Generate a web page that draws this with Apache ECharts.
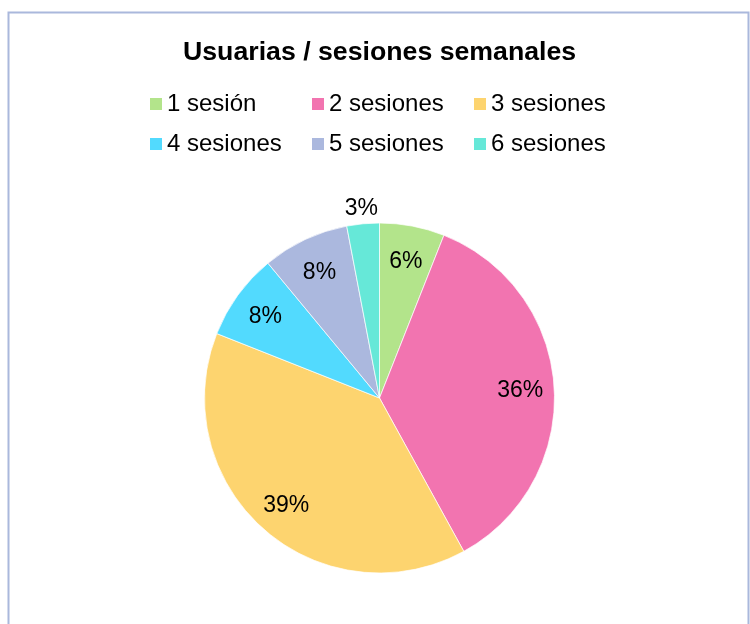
<!DOCTYPE html>
<html>
<head>
<meta charset="utf-8">
<script src="https://cdn.jsdelivr.net/npm/echarts@6/dist/echarts.min.js"></script>
<style>
  html, body { margin: 0; padding: 0; background: #fff; }
  #chart { width: 750px; height: 624px; }
</style>
</head>
<body>
<div id="chart"></div>
<script>
// datos
var categories = ['1 sesión', '2 sesiones', '3 sesiones', '4 sesiones', '5 sesiones', '6 sesiones'];
var percentages = [6, 36, 39, 8, 8, 3];
var colors = ['#b3e48b', '#f274b0', '#fdd46f', '#52dafe', '#abb8de', '#66e8d8'];

var font = "'Liberation Sans', Arial, sans-serif";

(function () {
	var myChart = echarts.init(document.getElementById('chart'));

	function pieData(showFn) {
		return categories.map(function (name, i) {
			return {
				name: name,
				value: percentages[i],
				label: { show: showFn(percentages[i]) }
			};
		});
	}

	var labelStyle = {
		position: 'inside',
		formatter: '{d}%',
		color: '#000',
		fontFamily: font,
		fontSize: 23
	};

	var option = {
		animation: false,
		color: colors,
		title: {
			text: 'Usuarias / sesiones semanales',
			left: 183,
			top: 39,
			padding: 0,
			textStyle: {
				fontFamily: font,
				fontWeight: 'bold',
				fontSize: 26.7,
				color: '#000'
			}
		},
		legend: {
			left: 150,
			top: 92,
			width: 500,
			padding: 0,
			itemGap: 16,
			itemWidth: 12,
			itemHeight: 12,
			itemStyle: { borderWidth: 0 },
			icon: 'rect',
			data: categories,
			textStyle: {
				fontFamily: font,
				fontSize: 24,
				lineHeight: 24,
				color: '#000',
				width: 129
			}
		},
		graphic: [{
			type: 'rect',
			shape: { x: 8.5, y: 12.5, width: 740, height: 700 },
			style: { fill: null, stroke: '#aab8dc', lineWidth: 2 },
			silent: true
		}],
		series: [{
			// tarta
			name: 'sesiones',
			type: 'pie',
			center: [379.5, 398],
			radius: 175,
			startAngle: 90,
			clockwise: true,
			avoidLabelOverlap: false,
			silent: true,
			itemStyle: { borderColor: '#fff', borderWidth: 0.7 },
			label: { show: false },
			labelLine: { show: false },
			data: pieData(function () { return false; })
		}, {
			// etiquetas dentro
			type: 'pie',
			center: [379.5, 400],
			radius: [104, 172],
			startAngle: 90,
			silent: true,
			avoidLabelOverlap: false,
			legendHoverLink: false,
			itemStyle: { color: 'rgba(0,0,0,0)', borderWidth: 0 },
			label: labelStyle,
			labelLine: { show: false },
			data: pieData(function (v) { return v >= 5; })
		}, {
			// etiquetas fuera (porciones pequeñas)
			type: 'pie',
			center: [379.5, 400],
			radius: [175, 203],
			startAngle: 90,
			silent: true,
			avoidLabelOverlap: false,
			legendHoverLink: false,
			itemStyle: { color: 'rgba(0,0,0,0)', borderWidth: 0 },
			label: labelStyle,
			labelLine: { show: false },
			data: pieData(function (v) { return v < 5; })
		}]
	};

	myChart.setOption(option);
})();
</script>
</body>
</html>
